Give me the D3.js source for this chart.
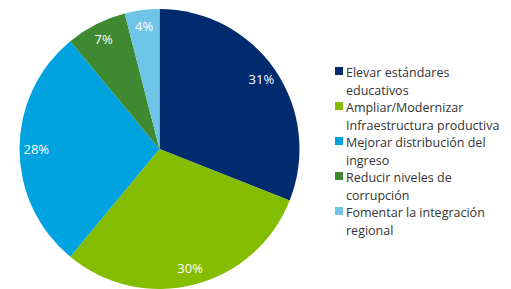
<!DOCTYPE html>
<html>
<head>
<meta charset="utf-8">
<script src="https://cdn.jsdelivr.net/npm/d3@7"></script>
<style>
  body { margin: 0; background: #fff; }
  svg { display: block; font-family: "Open Sans", "Noto Sans", sans-serif; }
</style>
</head>
<body>
<div id="pieChart"></div>
<script>
var categories = [
  ["Elevar estándares", "educativos"],
  ["Ampliar/Modernizar", "Infraestructura productiva"],
  ["Mejorar distribución del", "ingreso"],
  ["Reducir niveles de", "corrupción"],
  ["Fomentar la integración", "regional"]
];
var values = [31, 30, 28, 7, 4];
var colors = ["#002b6f", "#84bc00", "#00a3df", "#3f8a31", "#6fc5e8"];

var width = 511, height = 289;
var cx = 159.5, cy = 149, radius = 140;

var svg = d3.select("#pieChart")
  .append("svg")
  .attr("width", width)
  .attr("height", height);

var pie = d3.pie().sort(null).value(function (d) { return d; });
var arc = d3.arc().innerRadius(0).outerRadius(radius);
var labelArc = d3.arc().innerRadius(radius * 0.88).outerRadius(radius * 0.88);

var g = svg.append("g").attr("transform", "translate(" + cx + "," + cy + ")");

var slices = pie(values);

g.selectAll(".slice")
  .data(slices)
  .enter()
  .append("path")
  .attr("class", "slice")
  .attr("d", arc)
  .attr("fill", function (d, i) { return colors[i]; });

g.selectAll(".pct")
  .data(slices)
  .enter()
  .append("text")
  .attr("class", "pct")
  .attr("transform", function (d) { return "translate(" + labelArc.centroid(d) + ")"; })
  .attr("text-anchor", "middle")
  .attr("dy", "0.35em")
  .attr("fill", "#fff")
  .style("font-size", "13px")
  .text(function (d) { return d.data + "%"; });

// legend
var legend = svg.append("g").attr("transform", "translate(335,77)");

var item = legend.selectAll(".item")
  .data(categories)
  .enter()
  .append("g")
  .attr("class", "item")
  .attr("transform", function (d, i) { return "translate(0," + (i * 35) + ")"; });

item.append("rect")
  .attr("x", 0)
  .attr("y", -10)
  .attr("width", 8)
  .attr("height", 8)
  .attr("fill", function (d, i) { return colors[i]; });

item.append("text")
  .attr("fill", "#333")
  .style("font-size", "12.5px")
  .selectAll("tspan")
  .data(function (d) { return d; })
  .enter()
  .append("tspan")
  .attr("x", 11)
  .attr("dy", function (d, i) { return i === 0 ? 0 : 17.5; })
  .text(function (d) { return d; });
</script>
</body>
</html>
